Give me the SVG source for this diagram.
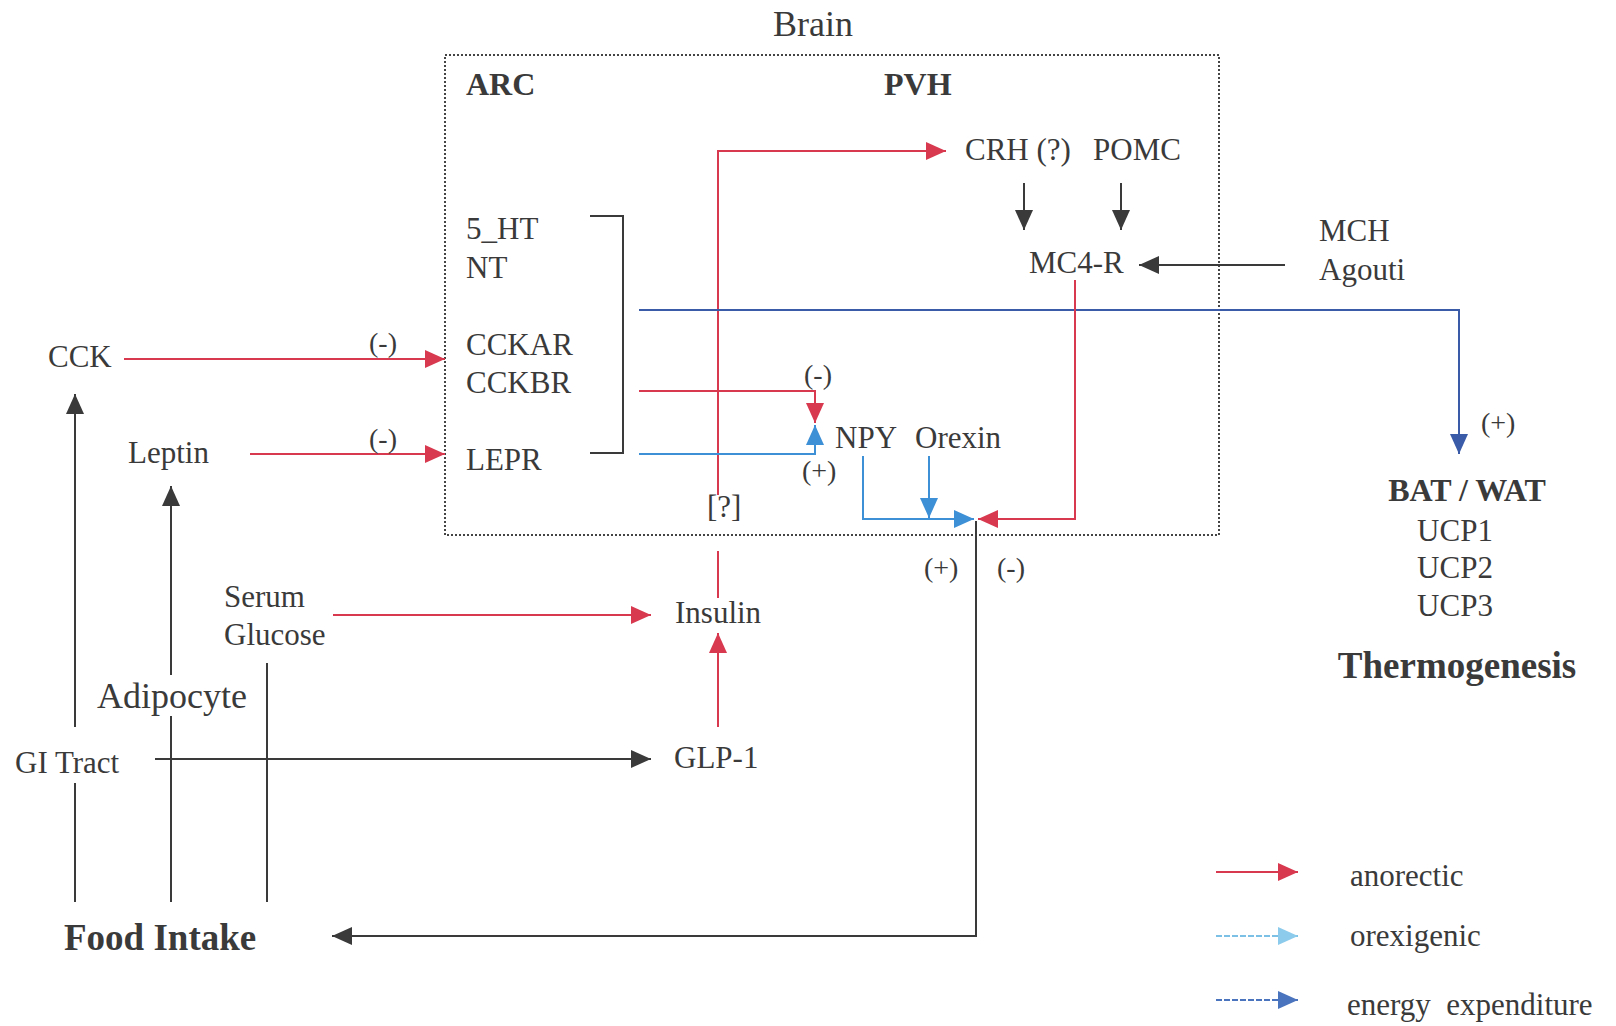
<svg xmlns="http://www.w3.org/2000/svg" width="1616" height="1026" viewBox="0 0 1616 1026">
<style>
text{font-family:"Liberation Serif","Times New Roman",serif;fill:#3a3a3a;font-size:31px}
.b{font-weight:bold;font-size:32px}
.big{font-size:36px}
.fb{font-weight:bold;font-size:37px}
.sm{font-size:28px}
.mid{text-anchor:middle}
.red{stroke:#d8394f;stroke-width:2;fill:none}
.lb{stroke:#3d8fd6;stroke-width:2;fill:none}
.db{stroke:#3a5ba8;stroke-width:2;fill:none}
.bk{stroke:#3a3a3a;stroke-width:2;fill:none}
.lbx{stroke:#7cc0e6;stroke-width:2;fill:none;stroke-dasharray:6 2}
.ebx{stroke:#4a74bd;stroke-width:2;fill:none;stroke-dasharray:6 2}
</style>
<defs>
<marker id="aR" markerUnits="userSpaceOnUse" markerWidth="20" markerHeight="18" viewBox="0 0 20 18" refX="20" refY="9" orient="auto"><path d="M0,0L20,9L0,18z" fill="#d8394f"/></marker>
<marker id="aLB" markerUnits="userSpaceOnUse" markerWidth="20" markerHeight="18" viewBox="0 0 20 18" refX="20" refY="9" orient="auto"><path d="M0,0L20,9L0,18z" fill="#3d8fd6"/></marker>
<marker id="aDB" markerUnits="userSpaceOnUse" markerWidth="20" markerHeight="18" viewBox="0 0 20 18" refX="20" refY="9" orient="auto"><path d="M0,0L20,9L0,18z" fill="#3a5ba8"/></marker>
<marker id="aK" markerUnits="userSpaceOnUse" markerWidth="20" markerHeight="18" viewBox="0 0 20 18" refX="20" refY="9" orient="auto"><path d="M0,0L20,9L0,18z" fill="#3a3a3a"/></marker>
<marker id="aLX" markerUnits="userSpaceOnUse" markerWidth="20" markerHeight="18" viewBox="0 0 20 18" refX="20" refY="9" orient="auto"><path d="M0,0L20,9L0,18z" fill="#8ccbeb"/></marker>
<marker id="aEX" markerUnits="userSpaceOnUse" markerWidth="20" markerHeight="18" viewBox="0 0 20 18" refX="20" refY="9" orient="auto"><path d="M0,0L20,9L0,18z" fill="#4a74bd"/></marker>
</defs>
<rect width="1616" height="1026" fill="#fff"/>

<g id="brain">
<rect x="445" y="55" width="774" height="480" fill="none" stroke="#444" stroke-width="2" stroke-dasharray="2 2"/>
<text class="big mid" x="813" y="36">Brain</text>
<text class="b" x="466" y="95">ARC</text>
<text class="b" x="884" y="95">PVH</text>
</g>

<g id="connectors">
<line class="red" x1="124" y1="359" x2="445" y2="359" marker-end="url(#aR)"/>
<line class="red" x1="250" y1="454" x2="445" y2="454" marker-end="url(#aR)"/>
<polyline class="red" points="718,495 718,151 946,151" marker-end="url(#aR)"/>
<line class="red" x1="718" y1="551" x2="718" y2="598"/>
<polyline class="db" points="639,310 1459,310 1459,454" marker-end="url(#aDB)"/>
<polyline class="red" points="639,391 815,391 815,423" marker-end="url(#aR)"/>
<polyline class="lb" points="639,454 815,454 815,425" marker-end="url(#aLB)"/>
<polyline class="lb" points="863,456 863,519 974,519" marker-end="url(#aLB)"/>
<line class="lb" x1="929" y1="456" x2="929" y2="518" marker-end="url(#aLB)"/>
<polyline class="red" points="1075,280 1075,519 978,519" marker-end="url(#aR)"/>
<polyline class="bk" points="976,521 976,936 332,936" marker-end="url(#aK)"/>
<line class="bk" x1="1024" y1="183" x2="1024" y2="230" marker-end="url(#aK)"/>
<line class="bk" x1="1121" y1="183" x2="1121" y2="230" marker-end="url(#aK)"/>
<line class="bk" x1="1285" y1="265" x2="1139" y2="265" marker-end="url(#aK)"/>
<line class="red" x1="333" y1="615" x2="651" y2="615" marker-end="url(#aR)"/>
<line class="red" x1="718" y1="727" x2="718" y2="633" marker-end="url(#aR)"/>
<line class="bk" x1="155" y1="759" x2="651" y2="759" marker-end="url(#aK)"/>
<line class="bk" x1="75" y1="902" x2="75" y2="783"/>
<line class="bk" x1="75" y1="727" x2="75" y2="394" marker-end="url(#aK)"/>
<line class="bk" x1="171" y1="902" x2="171" y2="716"/>
<line class="bk" x1="171" y1="675" x2="171" y2="486" marker-end="url(#aK)"/>
<line class="bk" x1="267" y1="663" x2="267" y2="902"/>
<polyline class="bk" points="590,216 623,216 623,453 590,453"/>
</g>

<g id="arc-receptors">
<text x="466" y="239">5_HT</text>
<text x="466" y="278">NT</text>
<text x="466" y="355">CCKAR</text>
<text x="466" y="393">CCKBR</text>
<text x="466" y="470">LEPR</text>
</g>
<g id="crh"><text x="965" y="160">CRH (?)</text></g>
<g id="pomc"><text x="1093" y="160">POMC</text></g>
<g id="mc4r"><text x="1029" y="273">MC4-R</text></g>
<g id="mch-agouti"><text x="1319" y="241">MCH</text><text x="1319" y="280">Agouti</text></g>
<g id="npy"><text x="835" y="448">NPY</text></g>
<g id="orexin"><text x="915" y="448">Orexin</text></g>
<g id="unknown"><text x="707" y="517">[?]</text></g>
<g id="cck"><text x="48" y="367">CCK</text></g>
<g id="leptin"><text x="128" y="463">Leptin</text></g>
<g id="serum-glucose"><text x="224" y="607">Serum</text><text x="224" y="645">Glucose</text></g>
<g id="insulin"><text x="675" y="623">Insulin</text></g>
<g id="adipocyte"><text class="big" x="97" y="708">Adipocyte</text></g>
<g id="gi-tract"><text x="15" y="773">GI Tract</text></g>
<g id="glp1"><text x="674" y="768">GLP-1</text></g>
<g id="food-intake"><text class="fb" x="64" y="950">Food Intake</text></g>
<g id="bat-wat">
<text class="b mid" x="1467" y="501">BAT / WAT</text>
<text class="mid" x="1455" y="541">UCP1</text>
<text class="mid" x="1455" y="578">UCP2</text>
<text class="mid" x="1455" y="616">UCP3</text>
<text class="fb mid" x="1457" y="678">Thermogenesis</text>
</g>

<g id="signs">
<text class="sm" x="369" y="352">(-)</text>
<text class="sm" x="369" y="448">(-)</text>
<text class="sm" x="804" y="384">(-)</text>
<text class="sm" x="802" y="480">(+)</text>
<text class="sm" x="924" y="577">(+)</text>
<text class="sm" x="997" y="577">(-)</text>
<text class="sm" x="1481" y="432">(+)</text>
</g>

<g id="legend">
<line class="red" x1="1216" y1="872" x2="1298" y2="872" marker-end="url(#aR)"/>
<line class="lbx" x1="1216" y1="936" x2="1298" y2="936" marker-end="url(#aLX)"/>
<line class="ebx" x1="1216" y1="1000" x2="1298" y2="1000" marker-end="url(#aEX)"/>
<text x="1350" y="886">anorectic</text>
<text x="1350" y="946">orexigenic</text>
<text x="1347" y="1015" xml:space="preserve">energy  expenditure</text>
</g>
</svg>
